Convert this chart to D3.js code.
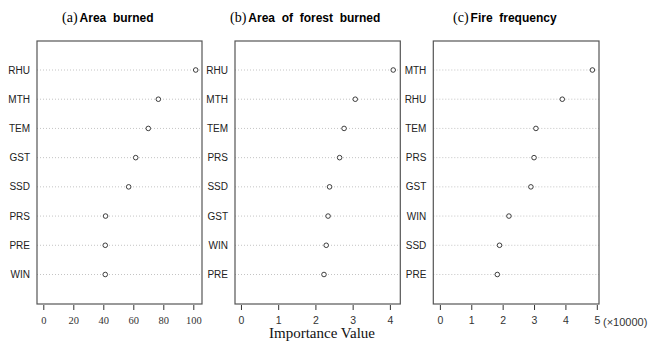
<!DOCTYPE html>
<html>
<head>
<meta charset="utf-8">
<script src="https://cdn.jsdelivr.net/npm/d3@7"></script>
<style>
  body { margin: 0; background: #fff; }
</style>
</head>
<body>
<div id="chart"></div>
<script>
const width = 651, height = 344;

// data, top row first
const varsA = ["RHU", "MTH", "TEM", "GST", "SSD", "PRS", "PRE", "WIN"];
const valsA = [101.6, 76.7, 70, 61.6, 56.9, 41.5, 41.3, 41.3];
const ticksA = [0, 20, 40, 60, 80, 100];

const varsB = ["RHU", "MTH", "TEM", "PRS", "SSD", "GST", "WIN", "PRE"];
const valsB = [4.09, 3.07, 2.77, 2.65, 2.38, 2.34, 2.29, 2.23];
const ticksB = [0, 1, 2, 3, 4];

const varsC = ["MTH", "RHU", "TEM", "PRS", "GST", "WIN", "SSD", "PRE"];
const valsC = [4.86, 3.9, 3.06, 3.0, 2.9, 2.2, 1.9, 1.83];
const ticksC = [0, 1, 2, 3, 4, 5];

var svg = d3.select("#chart")
  .append("svg")
  .attr("width", width)
  .attr("height", height);

var boxTop = 41, boxBottom = 304;

var panels = [
  { tag: "(a)", title: "Area  burned", vars: varsA, vals: valsA, ticks: ticksA,
    x0: 37, x1: 202, dom: [-4.2, 105.8], tx: 62, tickFont: "Liberation Serif, Times New Roman, serif" },
  { tag: "(b)", title: "Area  of  forest  burned", vars: varsB, vals: valsB, ticks: ticksB,
    x0: 235, x1: 400.3, dom: [-0.16, 4.28], tx: 230, tickFont: "Liberation Sans, Arial, sans-serif" },
  { tag: "(c)", title: "Fire  frequency", vars: varsC, vals: valsC, ticks: ticksC,
    x0: 433.3, x1: 599, dom: [-0.21, 5.07], tx: 453, tickFont: "Liberation Sans, Arial, sans-serif" }
];

panels.forEach(function(p) {
  var g = svg.append("g");

  var x = d3.scaleLinear().domain(p.dom).range([p.x0, p.x1]);
  var y = d3.scalePoint().domain(p.vars).range([70, 274.5]);

  // dotted guide lines
  g.selectAll("line.grid")
    .data(p.vars)
    .enter()
    .append("line")
      .attr("x1", p.x0)
      .attr("x2", p.x1)
      .attr("y1", function(d) { return y(d); })
      .attr("y2", function(d) { return y(d); })
      .attr("stroke", "#b5b5b5")
      .attr("stroke-width", 0.8)
      .attr("stroke-dasharray", "1,2");

  // variable names
  g.selectAll("text.lab")
    .data(p.vars)
    .enter()
    .append("text")
      .attr("x", p.x0 - 7)
      .attr("y", function(d) { return y(d); })
      .attr("dy", "0.35em")
      .attr("text-anchor", "end")
      .style("font-family", "Liberation Sans, Arial, sans-serif")
      .style("font-size", "10px")
      .attr("fill", "#222")
      .text(function(d) { return d; });

  // points
  g.selectAll("circle")
    .data(p.vars)
    .enter()
    .append("circle")
      .attr("cx", function(d, i) { return x(p.vals[i]); })
      .attr("cy", function(d) { return y(d); })
      .attr("r", 2.3)
      .attr("fill", "#fff")
      .attr("stroke", "#111")
      .attr("stroke-width", 0.8);

  // box
  g.append("rect")
    .attr("x", p.x0)
    .attr("y", boxTop)
    .attr("width", p.x1 - p.x0)
    .attr("height", boxBottom - boxTop)
    .attr("fill", "none")
    .attr("stroke", "#555")
    .attr("stroke-width", 1.2);

  // x axis
  var ax = g.append("g")
    .attr("transform", "translate(0," + (boxBottom + 1) + ")")
    .call(d3.axisBottom(x).tickValues(p.ticks).tickSize(5).tickPadding(7).tickFormat(d3.format("d")));
  ax.select(".domain").remove();
  ax.selectAll("line").attr("stroke", "#333");
  ax.selectAll("text")
    .style("font-family", p.tickFont)
    .style("font-size", "10.5px")
    .attr("fill", "#333");

  // title
  var t = g.append("text")
    .attr("x", p.tx)
    .attr("y", 22);
  t.append("tspan")
    .style("font-family", "Liberation Serif, Times New Roman, serif")
    .style("font-size", "14px")
    .text(p.tag);
  t.append("tspan")
    .attr("dx", 2)
    .style("font-family", "Liberation Sans, Arial, sans-serif")
    .style("font-weight", "bold")
    .style("font-size", "12px")
    .style("white-space", "pre")
    .text(p.title);
});

// unit note on the last axis
svg.append("text")
  .attr("x", 603)
  .attr("y", 326)
  .style("font-family", "Liberation Sans, Arial, sans-serif")
  .style("font-size", "11px")
  .attr("fill", "#333")
  .text("(×10000)");

svg.append("text")
  .attr("x", 322)
  .attr("y", 338)
  .attr("text-anchor", "middle")
  .style("font-family", "Liberation Serif, Times New Roman, serif")
  .style("font-size", "15px")
  .attr("fill", "#111")
  .text("Importance Value");
</script>
</body>
</html>
